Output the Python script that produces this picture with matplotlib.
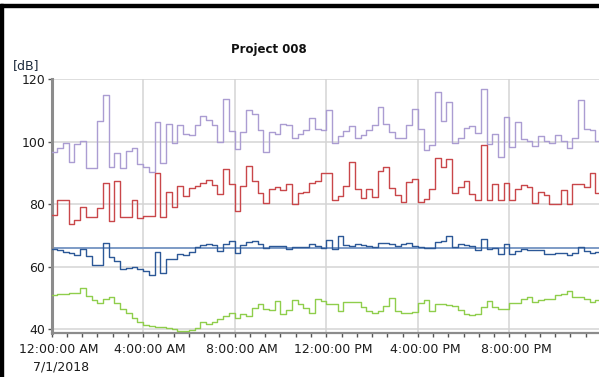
import numpy as np
import matplotlib.pyplot as plt
import matplotlib.transforms as mtransforms
from matplotlib.patches import Rectangle

# 15-minute levels over one day, 7/1/2018
lmax = [96.6, 97.9, 99.5, 93.4, 99.4, 100.3, 91.5, 91.5, 106.6, 115.0, 91.8, 96.3, 91.5, 96.9, 97.9, 92.9,
        91.9, 90.2, 106.3, 93.1, 105.6, 99.5, 105.5, 102.5, 102.0, 105.4, 108.2, 107.0, 105.5, 100.0, 113.7, 103.4,
        97.7, 103.0, 110.1, 108.8, 103.8, 96.8, 103.2, 102.5, 105.8, 105.5, 101.2, 102.5, 103.7, 107.5, 104.0, 103.6,
        110.3, 99.5, 101.7, 103.3, 105.1, 101.3, 102.2, 103.7, 105.5, 111.0, 105.7, 103.0, 101.3, 101.2, 105.4, 110.4,
        104.1, 97.5, 99.0, 116.0, 106.5, 112.8, 99.5, 101.3, 104.4, 105.0, 102.7, 117.0, 99.4, 102.4, 95.0, 107.8,
        98.2, 106.3, 100.8, 100.2, 98.5, 101.9, 100.2, 99.5, 102.3, 100.2, 97.9, 101.2, 113.2, 104.0, 103.8, 100.1]
l10 = [76.5, 81.5, 81.5, 73.7, 74.9, 79.0, 75.9, 75.9, 78.8, 86.8, 74.6, 87.5, 76.0, 76.0, 81.4, 75.5,
       76.4, 76.4, 89.9, 76.0, 84.0, 79.2, 85.7, 82.5, 85.2, 85.8, 86.8, 87.9, 86.3, 83.3, 91.4, 86.4,
       77.8, 85.7, 92.1, 87.4, 83.6, 80.4, 85.0, 85.4, 84.5, 86.6, 80.2, 83.6, 83.9, 86.7, 87.3, 90.0,
       90.0, 81.2, 82.5, 85.8, 93.5, 84.8, 82.1, 85.0, 82.3, 90.5, 91.8, 85.2, 83.0, 80.7, 87.0, 88.2,
       80.7, 81.8, 85.0, 94.9, 91.8, 94.6, 83.7, 85.4, 87.4, 83.2, 81.5, 99.0, 81.4, 86.6, 81.5, 86.8,
       81.4, 85.0, 86.3, 85.5, 80.4, 83.8, 83.0, 80.0, 80.0, 84.6, 80.0, 86.6, 86.4, 85.4, 90.0, 83.7]
leq = [65.7, 65.3, 64.8, 64.3, 63.9, 65.7, 63.4, 60.5, 60.5, 67.7, 63.0, 62.0, 59.2, 59.7, 59.9, 59.3,
       58.6, 57.5, 64.8, 58.0, 62.4, 62.4, 64.0, 63.8, 64.6, 66.2, 67.1, 67.4, 66.9, 65.1, 67.3, 68.2,
       64.5, 67.1, 67.8, 68.1, 67.3, 66.0, 66.8, 66.6, 66.6, 65.8, 66.3, 66.4, 66.2, 67.4, 66.8, 66.1,
       68.7, 65.6, 70.0, 67.0, 66.6, 67.3, 67.0, 66.8, 66.2, 67.5, 67.5, 67.4, 66.8, 67.3, 67.5, 66.6,
       66.4, 66.0, 66.1, 67.8, 68.4, 70.0, 66.3, 67.2, 66.9, 66.5, 65.5, 68.9, 65.6, 66.1, 64.0, 67.2,
       64.2, 65.2, 65.6, 65.4, 65.4, 65.3, 64.2, 64.0, 64.3, 64.3, 63.9, 64.4, 66.2, 64.9, 64.3, 64.6]
l90 = [50.9, 51.3, 51.3, 51.6, 51.6, 53.2, 50.8, 49.4, 48.5, 49.8, 50.2, 48.3, 46.4, 45.1, 43.6, 42.2,
       41.4, 41.0, 40.8, 40.6, 40.4, 40.2, 39.4, 39.5, 39.8, 40.5, 42.2, 41.8, 42.3, 43.3, 44.3, 45.2,
       43.7, 44.8, 44.3, 46.8, 48.0, 46.4, 46.1, 49.0, 45.0, 46.2, 49.5, 48.1, 46.8, 45.1, 49.8, 49.0,
       48.2, 48.0, 45.8, 48.6, 48.6, 48.6, 47.1, 45.8, 45.3, 46.0, 47.4, 50.1, 46.0, 45.2, 45.2, 45.4,
       48.4, 49.3, 45.9, 48.0, 48.2, 47.9, 47.3, 46.1, 44.8, 44.5, 44.8, 47.0, 48.9, 47.2, 46.6, 46.6,
       48.5, 48.5, 49.6, 50.3, 48.8, 49.4, 49.7, 49.8, 51.1, 51.3, 52.1, 50.2, 50.2, 49.8, 48.7, 49.4]
leq_day = 66.0

tick_hours = [0, 4, 8, 12, 16, 20]
tick_labels = ['12:00:00 AM', '4:00:00 AM', '8:00:00 AM', '12:00:00 PM', '4:00:00 PM', '8:00:00 PM']

W, H = 599, 377
fig = plt.figure(figsize=(W / 100, H / 100), dpi=100)
ax = fig.add_axes([51.5 / W, 1 - 333.3 / H, 549.5 / W, (333.3 - 79.2) / H])

t = np.arange(len(leq) + 1) * 0.25


def stairs(vals, color, lw=1.0):
    ax.step(t, list(vals) + [vals[-1]], where='post', color=color, lw=lw, zorder=3)


stairs(lmax, '#ab9dd2')
stairs(l10, '#c9474a')
ax.axhline(leq_day, color='#7d9bc6', lw=1.4, zorder=2)
stairs(leq, '#2c5897')
stairs(l90, '#8fce4c')

ax.set_xlim(0, 24)
ax.set_ylim(38.72, 120)
ax.set_yticks([40, 60, 80, 100, 120])
ax.set_xticks(tick_hours)
ax.set_xticklabels(tick_labels)
ax.set_xticks(np.arange(0, 24, 2 / 3), minor=True)
ax.grid(True, which='major', color='#d4d4d4', lw=1.1, zorder=0)

for s in ['top', 'right']:
    ax.spines[s].set_visible(False)
ax.spines['left'].set_color('#8c8c8c')
ax.spines['left'].set_linewidth(2.2)
ax.spines['bottom'].set_color('#8c8c8c')
ax.spines['bottom'].set_linewidth(1.6)

ax.tick_params(axis='y', length=3, width=1, color='#555555', pad=1.5,
               labelsize=9, labelcolor='#1c1c1c')
ax.tick_params(axis='x', which='both', length=3, width=1, color='#555555', pad=4,
               labelsize=9, labelcolor='#1c1c1c')

shift = mtransforms.ScaledTranslation(7 / 100, 0, fig.dpi_scale_trans)
for lab in ax.get_xticklabels():
    lab.set_transform(lab.get_transform() + shift)

fig.text(61 / W, 1 - 367 / H, '7/1/2018', ha='center', va='center', fontsize=9, color='#1c1c1c')
fig.text(26 / W, 1 - 66 / H, '[dB]', ha='center', va='center', fontsize=9, color='#1c2a3c')
fig.text(269 / W, 1 - 50 / H, 'Project 008', ha='center', va='center', fontsize=8.5,
         fontweight='bold', color='#111111')

# window frame edges
fig.patches.append(Rectangle((0, 0), 3.3 / W, 1 - 4 / H, transform=fig.transFigure,
                             color='black', zorder=10))
fig.patches.append(Rectangle((0, 1 - 6.7 / H), 1, 2.7 / H, transform=fig.transFigure,
                             color='black', zorder=10))

fig.savefig('out.png', dpi=100)
